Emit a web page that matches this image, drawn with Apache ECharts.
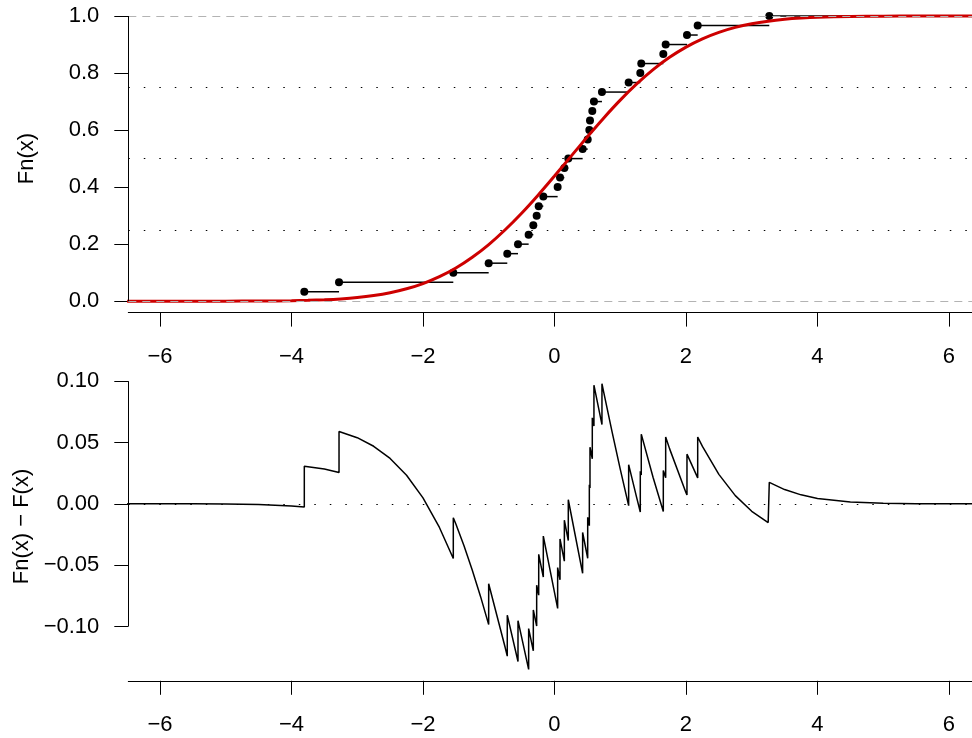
<!DOCTYPE html>
<html>
<head>
<meta charset="utf-8">
<title>ECDF vs fitted normal</title>
<script src="https://cdn.jsdelivr.net/npm/echarts@6/dist/echarts.min.js"></script>
<style>
  html, body { margin: 0; padding: 0; background: #fff; }
  #chart { width: 972px; height: 738px; }
</style>
</head>
<body>
<div id="chart"></div>
<script>
const sampleX = [-3.805, -3.277, -1.539, -1.001, -0.718, -0.555, -0.393, -0.322, -0.271, -0.24,
  -0.17, 0.048, 0.084, 0.15, 0.21, 0.428, 0.505, 0.53, 0.54, 0.575,
  0.6, 0.722, 1.128, 1.305, 1.32, 1.655, 1.691, 2.015, 2.178, 3.267];
// height of each step (dot y)
const ecdfLevels = [0.0333, 0.0667, 0.1, 0.1333, 0.1667, 0.2, 0.2333, 0.2667, 0.3, 0.3333,
  0.3667, 0.4, 0.4333, 0.4667, 0.5, 0.5333, 0.5667, 0.6, 0.6333, 0.6667,
  0.7, 0.7333, 0.7667, 0.8, 0.8333, 0.8667, 0.9, 0.9333, 0.9667, 1.0];

// red curve (fitted normal cdf)
const cdfX = [-6.5, -6, -5.5, -5, -4.5, -4, -3.75, -3.5, -3.25, -3, -2.75, -2.5, -2.25, -2,
  -1.75, -1.5, -1.25, -1, -0.75, -0.5, -0.25, 0, 0.25, 0.5, 0.75, 1, 1.25, 1.5, 1.75, 2,
  2.25, 2.5, 2.75, 3, 3.25, 3.5, 3.75, 4, 4.5, 5, 5.5, 6, 6.5];
const cdfY = [0, 0, 0, 0.0002, 0.0005, 0.0017, 0.003, 0.005, 0.0081, 0.0128, 0.0198, 0.0297, 0.0434, 0.0619,
  0.086, 0.1164, 0.1541, 0.1987, 0.2505, 0.3085, 0.3718, 0.4389, 0.5077, 0.5763, 0.6427, 0.705, 0.7617, 0.8119, 0.855, 0.8909,
  0.9199, 0.9427, 0.96, 0.9728, 0.982, 0.9884, 0.9927, 0.9956, 0.9985, 0.9995, 0.9999, 1, 1];

// bottom panel: Fn(x) - F(x), [x, y] (jumps appear as two points at the same x)
const diffCurve = [
  [-6.5, 0], [-6, 0], [-5.5, 0], [-5, -0.0002], [-4.5, -0.0005], [-4, -0.0017],
  [-3.805, -0.0026], [-3.805, 0.0307], [-3.5, 0.0284], [-3.277, 0.0256], [-3.277, 0.059],
  [-3.25, 0.0586], [-3, 0.0539], [-2.75, 0.0469], [-2.5, 0.037], [-2.25, 0.0233], [-2, 0.0048],
  [-1.75, -0.0193], [-1.539, -0.0446], [-1.539, -0.0113], [-1.5, -0.0164], [-1.375, -0.0344],
  [-1.25, -0.0541], [-1.125, -0.0755], [-1.001, -0.0985], [-1.001, -0.0652], [-0.75, -0.1172],
  [-0.718, -0.1242], [-0.718, -0.0908], [-0.555, -0.1286], [-0.555, -0.0953],
  [-0.393, -0.135], [-0.393, -0.1017], [-0.322, -0.1199], [-0.322, -0.0865],
  [-0.271, -0.0997], [-0.271, -0.0664], [-0.24, -0.0745], [-0.24, -0.0412],
  [-0.17, -0.0597], [-0.17, -0.0263], [0, -0.0722], [0.048, -0.0853], [0.048, -0.052],
  [0.084, -0.0619], [0.084, -0.0286], [0.15, -0.0468], [0.15, -0.0134], [0.21, -0.03], [0.21, 0.0033],
  [0.25, -0.0077], [0.428, -0.0567], [0.428, -0.0234], [0.505, -0.0444], [0.505, -0.011],
  [0.53, -0.0178], [0.53, 0.0155], [0.54, 0.0128], [0.54, 0.0461], [0.575, 0.0367], [0.575, 0.0701],
  [0.6, 0.0634], [0.6, 0.0967], [0.722, 0.0646], [0.722, 0.0979], [0.75, 0.0906], [0.875, 0.0589],
  [1, 0.0283], [1.128, -0.0015], [1.128, 0.0319], [1.25, 0.005], [1.305, -0.0067], [1.305, 0.0266],
  [1.32, 0.0235], [1.32, 0.0568], [1.5, 0.0214], [1.655, -0.0062], [1.655, 0.0272],
  [1.691, 0.0212], [1.691, 0.0545], [1.75, 0.045], [2, 0.0091], [2.015, 0.0072], [2.015, 0.0405],
  [2.178, 0.0211], [2.178, 0.0545], [2.25, 0.0468], [2.5, 0.024], [2.75, 0.0067], [3, -0.0061],
  [3.25, -0.0153], [3.267, -0.0158], [3.267, 0.0175], [3.5, 0.0116], [3.75, 0.0073], [4, 0.0044],
  [4.5, 0.0015], [5, 0.0005], [5.5, 0.0001], [6, 0], [6.5, 0]
];

const xTicks = [-6, -4, -2, 0, 2, 4, 6];
const topYTicks = [0, 0.2, 0.4, 0.6, 0.8, 1.0];
const bottomYTicks = [-0.1, -0.05, 0, 0.05, 0.1];
const topDotted = [0.25, 0.5, 0.75];
const topDashed = [0, 1];

const X_MIN = -6.482;
const X_MAX = 6.35;
const FONT = 'Liberation Sans, Arial, Helvetica, sans-serif';
const minus = (s) => s.replace('-', '\u2212');

const chart = echarts.init(document.getElementById('chart'), null, { renderer: 'canvas' });

// horizontal pieces of the step function: [from, to, level]
const stepSegs = [[X_MIN, sampleX[0], 0]];
sampleX.forEach((x, i) => {
  const next = i < sampleX.length - 1 ? sampleX[i + 1] : 6.5;
  stepSegs.push([x, next, ecdfLevels[i]]);
});

function xAxisOpt(gridIndex) {
  return {
    type: 'value', gridIndex: gridIndex, min: X_MIN, max: X_MAX,
    axisLine: { show: true, onZero: false, lineStyle: { color: '#000', width: 1 } },
    axisTick: { show: true, customValues: xTicks, length: 14, lineStyle: { color: '#000', width: 1 } },
    axisLabel: { customValues: xTicks, margin: 33, color: '#000', fontSize: 22, fontFamily: FONT,
      formatter: (v) => minus(String(v)) },
    splitLine: { show: false }
  };
}

function yAxisOpt(gridIndex, min, max, ticks, digits, name, gap) {
  return {
    type: 'value', gridIndex: gridIndex, min: min, max: max,
    name: name, nameLocation: 'middle', nameGap: gap,
    nameTextStyle: { color: '#000', fontSize: 22, fontFamily: FONT },
    axisLine: { show: false, onZero: false },
    axisTick: { show: true, customValues: ticks, length: 14, lineStyle: { color: '#000', width: 1 } },
    axisLabel: { customValues: ticks, margin: 29, color: '#000', fontSize: 22, fontFamily: FONT,
      formatter: (v) => minus(v.toFixed(digits)) },
    splitLine: { show: false }
  };
}

function refLine(y, type, color) {
  return { yAxis: y, lineStyle: { type: type, color: color, width: 1.2 } };
}

const option = {
  animation: false,
  backgroundColor: '#fff',
  grid: [
    { left: 128.3, right: 0, top: 4.6, height: 308 },
    { left: 128.3, right: 0, top: 372.2, height: 308.6 }
  ],
  xAxis: [xAxisOpt(0), xAxisOpt(1)],
  yAxis: [
    yAxisOpt(0, -0.04, 1.04, topYTicks, 1, 'Fn(x)', 90),
    yAxisOpt(1, -0.1443, 0.1073, bottomYTicks, 2, 'Fn(x) \u2212 F(x)', 92)
  ],
  series: [
    // reference lines + partial y axis line, top panel
    {
      type: 'line', xAxisIndex: 0, yAxisIndex: 0, data: [], z: 1,
      markLine: {
        silent: true, symbol: 'none', label: { show: false }, animation: false,
        data: topDashed.map((y) => refLine(y, [8, 6], '#b3b3b3'))
          .concat(topDotted.map((y) => refLine(y, [1.5, 14], '#000')))
          .concat([[{ coord: [X_MIN, topYTicks[0]], lineStyle: { type: 'solid', color: '#000', width: 1 } },
            { coord: [X_MIN, topYTicks[topYTicks.length - 1]] }]])
      }
    },
    {
      type: 'custom', xAxisIndex: 0, yAxisIndex: 0, z: 2,
      encode: { x: [0, 1], y: 2 },
      data: stepSegs,
      renderItem: function (params, api) {
        const p0 = api.coord([api.value(0), api.value(2)]);
        const p1 = api.coord([api.value(1), api.value(2)]);
        return {
          type: 'line',
          shape: { x1: p0[0], y1: p0[1], x2: p1[0], y2: p1[1] },
          style: { stroke: '#000', lineWidth: 1.5 }
        };
      }
    },
    {
      type: 'scatter', xAxisIndex: 0, yAxisIndex: 0, z: 3,
      symbol: 'circle', symbolSize: 8,
      itemStyle: { color: '#000', opacity: 1 },
      data: sampleX.map((x, i) => [x, ecdfLevels[i]])
    },
    {
      type: 'line', xAxisIndex: 0, yAxisIndex: 0, z: 4,
      smooth: 0.3, showSymbol: false,
      lineStyle: { color: '#cd0000', width: 3 },
      data: cdfX.map((x, i) => [x, cdfY[i]])
    },
    // bottom panel
    {
      type: 'line', xAxisIndex: 1, yAxisIndex: 1, data: [], z: 1,
      markLine: {
        silent: true, symbol: 'none', label: { show: false }, animation: false,
        data: [refLine(0, [1.5, 14], '#000'),
          [{ coord: [X_MIN, bottomYTicks[0]], lineStyle: { type: 'solid', color: '#000', width: 1 } },
            { coord: [X_MIN, bottomYTicks[bottomYTicks.length - 1]] }]]
      }
    },
    {
      type: 'line', xAxisIndex: 1, yAxisIndex: 1, z: 3,
      showSymbol: false,
      lineStyle: { color: '#000', width: 1.5 },
      data: diffCurve
    }
  ]
};

chart.setOption(option);
window.addEventListener('resize', () => chart.resize());
</script>
</body>
</html>
